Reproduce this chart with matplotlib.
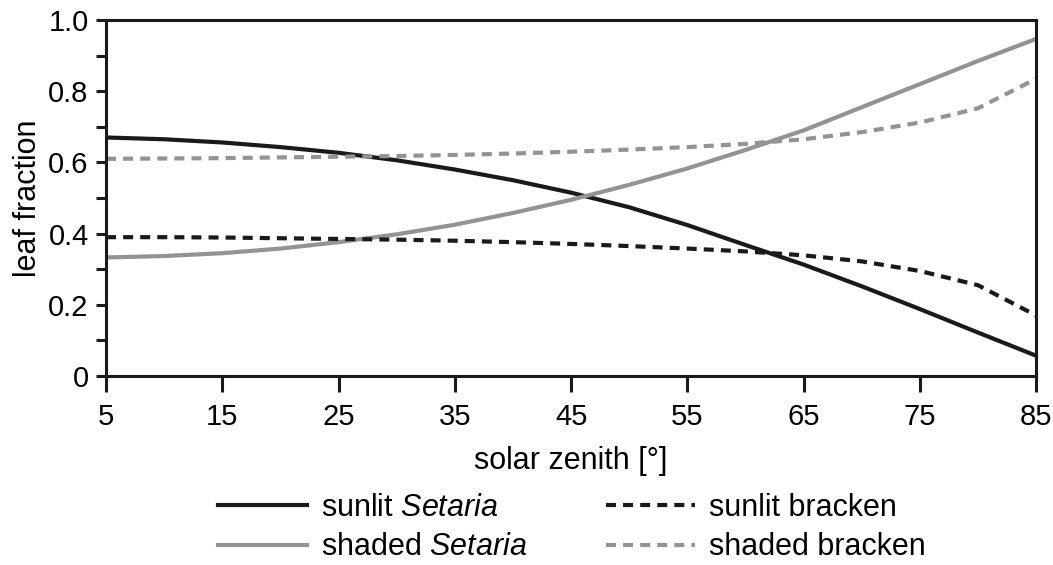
import matplotlib
matplotlib.use("Agg")
import matplotlib.pyplot as plt

plt.rcParams["font.family"] = ["Liberation Sans", "DejaVu Sans"]
plt.rcParams["mathtext.fontset"] = "custom"
plt.rcParams["mathtext.rm"] = "Liberation Sans"
plt.rcParams["mathtext.it"] = "Liberation Sans:italic"

# leaf fractions against solar zenith angle
zenith = [5, 10, 15, 20, 25, 30, 35, 40, 45, 50, 55, 60, 65, 70, 75, 80, 85]
sunlit_setaria = [0.670, 0.665, 0.656, 0.643, 0.627, 0.606, 0.580, 0.550, 0.515,
                  0.474, 0.424, 0.368, 0.313, 0.252, 0.188, 0.122, 0.057]
shaded_setaria = [0.333, 0.337, 0.345, 0.358, 0.376, 0.398, 0.425, 0.458, 0.495,
                  0.537, 0.583, 0.635, 0.690, 0.755, 0.820, 0.885, 0.947]
sunlit_bracken = [0.390, 0.390, 0.389, 0.387, 0.385, 0.383, 0.380, 0.376, 0.371,
                  0.365, 0.358, 0.350, 0.339, 0.322, 0.295, 0.255, 0.170]
shaded_bracken = [0.610, 0.611, 0.612, 0.614, 0.616, 0.618, 0.621, 0.625, 0.630,
                  0.636, 0.643, 0.652, 0.665, 0.685, 0.712, 0.752, 0.835]

x_ticks = [5, 15, 25, 35, 45, 55, 65, 75, 85]
y_ticks = [0, 0.2, 0.4, 0.6, 0.8, 1.0]
y_labels = ["0", "0.2", "0.4", "0.6", "0.8", "1.0"]
y_minor = [0.1, 0.3, 0.5, 0.7, 0.9]

black = "#1a1a1a"
grey = "#939393"
dash = (2.4, 1.7)

fig = plt.figure(figsize=(10.53, 5.65), dpi=100)
ax = fig.add_axes([0.1007, 0.3345, 0.8833, 0.6301])

ax.plot(zenith, sunlit_setaria, color=black, lw=3, label=r"sunlit $\mathit{Setaria}$")
ax.plot(zenith, shaded_setaria, color=grey, lw=3, label=r"shaded $\mathit{Setaria}$")
ax.plot(zenith, sunlit_bracken, color=black, lw=3, ls=(0, dash), label="sunlit bracken")
ax.plot(zenith, shaded_bracken, color=grey, lw=3, ls=(0, dash), label="shaded bracken")

ax.set_xlim(5, 85)
ax.set_ylim(0, 1.0)
ax.set_xticks(x_ticks)
ax.set_yticks(y_ticks, y_labels)
ax.set_yticks(y_minor, minor=True)

for s in ax.spines.values():
    s.set_linewidth(2.2)
    s.set_color(black)
ax.tick_params(axis="x", direction="out", length=11.5, width=2.2, color=black,
               labelsize=21, pad=8)
ax.tick_params(axis="y", which="both", direction="out", length=7.5, width=2.2,
               color=black, labelsize=21, pad=5)

ax.set_xlabel("solar zenith [°]", fontsize=22, labelpad=11)
ax.set_ylabel("leaf fraction", fontsize=22, labelpad=4)

fig.legend(loc="center", bbox_to_anchor=(0.543, 0.066), ncol=2, frameon=False,
           fontsize=22, handlelength=2.9, handletextpad=0.45, columnspacing=2.6,
           labelspacing=0.3)

fig.savefig("out.png", dpi=100)
